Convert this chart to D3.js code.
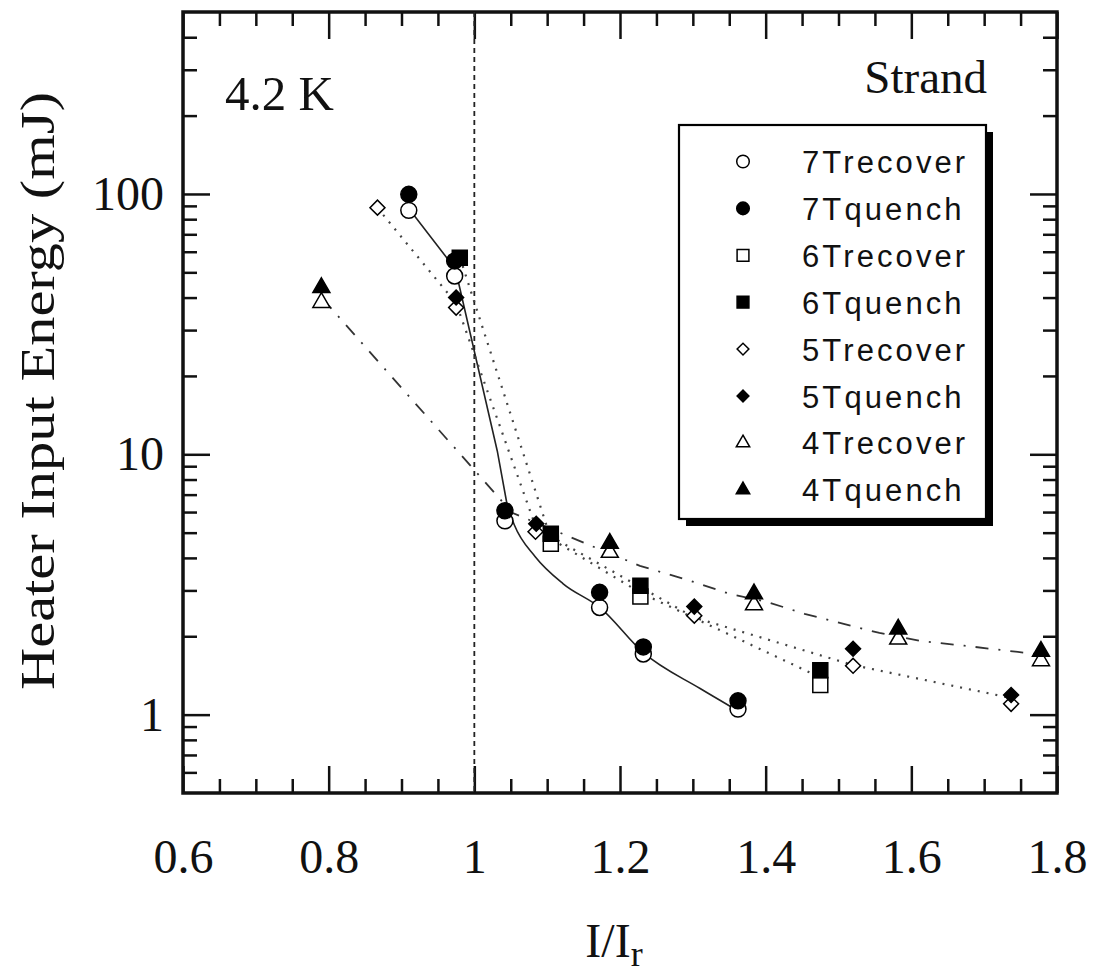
<!DOCTYPE html>
<html><head><meta charset="utf-8">
<script src="https://cdn.jsdelivr.net/npm/d3@7"></script>
<style>body{margin:0;background:#fff}</style>
</head><body><svg id="c" width="1098" height="973"></svg>
<script>
// ---- axis ticks ----
const xMajor = [0.6, 0.8, 1.0, 1.2, 1.4, 1.6, 1.8];
const xMajorLabels = ["0.6", "0.8", "1", "1.2", "1.4", "1.6", "1.8"];
const xMinor = [0.65, 0.7, 0.75, 0.85, 0.9, 0.95, 1.05, 1.1, 1.15, 1.25, 1.3, 1.35, 1.45, 1.5, 1.55, 1.65, 1.7, 1.75];
const yMajor = [1, 10, 100];
const yMajorLabels = ["1", "10", "100"];
const yMinor = [0.6, 0.7, 0.8, 0.9, 2, 3, 4, 5, 6, 7, 8, 9, 20, 30, 40, 50, 60, 70, 80, 90, 200, 300, 400];

// ---- measured data ----
const seriesNames = ["7Trecover", "7Tquench", "6Trecover", "6Tquench", "5Trecover", "5Tquench", "4Trecover", "4Tquench"];
const x7Trecover = [0.91, 0.973, 1.042, 1.172, 1.232, 1.362];
const y7Trecover = [86.5, 48.4, 5.55, 2.58, 1.71, 1.05];
const x7Tquench = [0.91, 0.973, 1.042, 1.172, 1.232, 1.362];
const y7Tquench = [99.7, 55.3, 6.07, 2.95, 1.82, 1.13];
const x6Trecover = [1.105, 1.228, 1.475];
const y6Trecover = [4.53, 2.84, 1.30];
const x6Tquench = [0.98, 1.105, 1.228, 1.475];
const y6Tquench = [56.9, 4.95, 3.13, 1.48];
const x5Trecover = [0.867, 0.975, 1.084, 1.302, 1.52, 1.737];
const y5Trecover = [88.6, 36.6, 5.04, 2.40, 1.54, 1.10];
const x5Tquench = [0.975, 1.085, 1.302, 1.52, 1.737];
const y5Tquench = [40.0, 5.41, 2.60, 1.79, 1.19];
const x4Trecover = [0.79, 1.186, 1.384, 1.582, 1.778];
const y4Trecover = [38.3, 4.2, 2.64, 1.95, 1.61];
const x4Tquench = [0.79, 1.186, 1.384, 1.582, 1.778];
const y4Tquench = [43.7, 4.55, 2.91, 2.13, 1.75];

// ---- guide curves (vertices) ----
// 7T: steep straight upper part, then a smooth lower branch
const fit7TupperX = [0.91, 0.974, 1.0315, 1.045];
const fit7TupperY = [88, 51.5, 10.3, 6.4];
const fit7TlowerX = [1.045, 1.0548, 1.0836, 1.122, 1.173, 1.232, 1.31, 1.353];
const fit7TlowerY = [6.4, 5.36, 4.04, 3.18, 2.57, 1.73, 1.26, 1.07];
const fit6Tx = [0.984, 1.105, 1.228, 1.475];
const fit6Ty = [52.9, 4.74, 2.94, 1.39];
const fit5Tx = [0.867, 0.975, 1.085, 1.302, 1.52, 1.736];
const fit5Ty = [88.4, 38, 5.2, 2.36, 1.55, 1.16];
const fit4Tx = [0.792, 1.052, 1.17, 1.2274, 1.2959, 1.3507, 1.40, 1.4534, 1.5151, 1.5562, 1.6123, 1.6726, 1.7315, 1.7712];
const fit4Ty = [39.5, 5.96, 4.34, 3.73, 3.27, 2.91, 2.72, 2.44, 2.20, 2.06, 1.92, 1.84, 1.76, 1.71];

const series = [
  {name: "7Trecover", xs: x7Trecover, ys: y7Trecover, shape: "circle", filled: false},
  {name: "7Tquench", xs: x7Tquench, ys: y7Tquench, shape: "circle", filled: true},
  {name: "6Trecover", xs: x6Trecover, ys: y6Trecover, shape: "square", filled: false},
  {name: "6Tquench", xs: x6Tquench, ys: y6Tquench, shape: "square", filled: true},
  {name: "5Trecover", xs: x5Trecover, ys: y5Trecover, shape: "diamond", filled: false},
  {name: "5Tquench", xs: x5Tquench, ys: y5Tquench, shape: "diamond", filled: true},
  {name: "4Trecover", xs: x4Trecover, ys: y4Trecover, shape: "triangle", filled: false},
  {name: "4Tquench", xs: x4Tquench, ys: y4Tquench, shape: "triangle", filled: true}
];

const L = 183, R = 1057, T = 12, B = 793;
const svg = d3.select("#c");
const x = d3.scaleLinear().domain([0.6, 1.8]).range([L, R]);
const y = d3.scaleLog().domain([0.5, 500]).range([B, T]);
const serif = "'Liberation Serif','Times New Roman',serif";
const sans = "'Liberation Sans',Arial,Helvetica,sans-serif";

function styleAxis(g) {
  g.select(".domain").remove();
  g.selectAll("line").attr("stroke", "#111").attr("stroke-width", 2.5);
}
// bottom
svg.append("g").attr("transform", `translate(0,${B})`)
  .call(d3.axisBottom(x).tickValues(xMinor).tickSize(-14).tickFormat(""))
  .call(styleAxis);
svg.append("g").attr("transform", `translate(0,${B})`)
  .call(d3.axisBottom(x).tickValues(xMajor).tickSize(-27).tickPadding(46)
    .tickFormat((d, i) => xMajorLabels[i]))
  .call(styleAxis)
  .call(g => g.selectAll("text").attr("font-family", serif).attr("font-size", 48).attr("fill", "#111"));
// top
svg.append("g").attr("transform", `translate(0,${T})`)
  .call(d3.axisTop(x).tickValues(xMinor).tickSize(-14).tickFormat("")).call(styleAxis);
svg.append("g").attr("transform", `translate(0,${T})`)
  .call(d3.axisTop(x).tickValues(xMajor).tickSize(-27).tickFormat("")).call(styleAxis);
// left
svg.append("g").attr("transform", `translate(${L},0)`)
  .call(d3.axisLeft(y).tickValues(yMinor).tickSize(-14).tickFormat("")).call(styleAxis);
svg.append("g").attr("transform", `translate(${L},0)`)
  .call(d3.axisLeft(y).tickValues(yMajor).tickSize(-27).tickPadding(19)
    .tickFormat((d, i) => yMajorLabels[i]))
  .call(styleAxis)
  .call(g => g.selectAll("text").attr("font-family", serif).attr("font-size", 48).attr("fill", "#111"));
// right
svg.append("g").attr("transform", `translate(${R},0)`)
  .call(d3.axisRight(y).tickValues(yMinor).tickSize(-14).tickFormat("")).call(styleAxis);
svg.append("g").attr("transform", `translate(${R},0)`)
  .call(d3.axisRight(y).tickValues(yMajor).tickSize(-27).tickFormat("")).call(styleAxis);

// frame
svg.append("rect").attr("x", L).attr("y", T).attr("width", R - L).attr("height", B - T)
  .attr("fill", "none").attr("stroke", "#111").attr("stroke-width", 3.5);

// vertical dashed line at I/Ir = 1
svg.append("line").attr("x1", x(1)).attr("x2", x(1)).attr("y1", T).attr("y2", B)
  .attr("stroke", "#222").attr("stroke-width", 1.8).attr("stroke-dasharray", "5,4");

// guide curves
const lineLin = d3.line().x(d => x(d[0])).y(d => y(d[1])).curve(d3.curveLinear);
const lineSmooth = d3.line().x(d => x(d[0])).y(d => y(d[1])).curve(d3.curveMonotoneX);
const zip = (a, b) => a.map((v, i) => [v, b[i]]);
svg.append("path").attr("d", lineLin(zip(fit7TupperX, fit7TupperY)))
  .attr("fill", "none").attr("stroke", "#222").attr("stroke-width", 1.6).attr("stroke-linejoin", "round");
svg.append("path").attr("d", lineSmooth(zip(fit7TlowerX, fit7TlowerY)))
  .attr("fill", "none").attr("stroke", "#222").attr("stroke-width", 1.6);
svg.append("path").attr("d", lineLin(zip(fit6Tx, fit6Ty)))
  .attr("fill", "none").attr("stroke", "#444").attr("stroke-width", 2.2).attr("stroke-dasharray", "2,7");
svg.append("path").attr("d", lineLin(zip(fit5Tx, fit5Ty)))
  .attr("fill", "none").attr("stroke", "#444").attr("stroke-width", 2.2).attr("stroke-dasharray", "2,7");
svg.append("path").attr("d", lineLin(zip(fit4Tx, fit4Ty)))
  .attr("fill", "none").attr("stroke", "#333").attr("stroke-width", 1.8).attr("stroke-dasharray", "13,10,2,10");

// markers
function symPath(shape, scale) {
  const s = scale || 1;
  if (shape === "circle") return d3.symbol(d3.symbolCircle, 200 * s)();
  if (shape === "square") return d3.symbol(d3.symbolSquare, 225 * s)();
  if (shape === "diamond") return d3.symbol(d3.symbolSquare, 112 * s)();
  return d3.symbol(d3.symbolTriangle, 125 * s)();
}
function drawSym(g, shape, filled, cx, cy, scale) {
  g.append("path").attr("d", symPath(shape, scale))
    .attr("transform", `translate(${cx},${cy})` + (shape === "diamond" ? " rotate(45)" : ""))
    .attr("fill", filled ? "#000" : "#fff")
    .attr("stroke", "#000").attr("stroke-width", 1.5);
}
const mk = svg.append("g");
series.forEach(s => {
  s.xs.forEach((xv, i) => drawSym(mk, s.shape, s.filled, x(xv), y(s.ys[i]), 1));
});

// texts
svg.append("text").attr("x", 225).attr("y", 110).attr("font-family", serif).attr("font-size", 49)
  .attr("fill", "#111").text("4.2 K");
svg.append("text").attr("x", 987).attr("y", 93).attr("text-anchor", "end").attr("font-family", serif)
  .attr("font-size", 47).attr("fill", "#111").text("Strand");

// axis titles
const xt = svg.append("text").attr("x", 614).attr("y", 957).attr("text-anchor", "middle")
  .attr("font-family", serif).attr("font-size", 48).attr("fill", "#111");
xt.append("tspan").text("I/I");
xt.append("tspan").attr("font-size", 36).attr("dy", 9).text("r");
svg.append("text").attr("transform", "translate(54,391) rotate(-90)").attr("text-anchor", "middle")
  .attr("font-family", serif).attr("font-size", 48).attr("fill", "#111")
  .attr("textLength", 598).attr("lengthAdjust", "spacingAndGlyphs")
  .text("Heater Input Energy (mJ)");

// legend
const lg = svg.append("g");
lg.append("rect").attr("x", 686).attr("y", 132).attr("width", 307).attr("height", 394).attr("fill", "#000");
lg.append("rect").attr("x", 679).attr("y", 125).attr("width", 307).attr("height", 394)
  .attr("fill", "#fff").attr("stroke", "#000").attr("stroke-width", 2.2);
series.forEach((s, i) => {
  const cy = 161.5 + i * 46.9;
  drawSym(lg, s.shape, s.filled, 743, cy, 0.62);
  lg.append("text").attr("x", 802).attr("y", cy + 11.5).attr("font-family", sans)
    .attr("font-size", 31).attr("letter-spacing", 3.1).attr("fill", "#111").text(s.name);
});
</script></body></html>
